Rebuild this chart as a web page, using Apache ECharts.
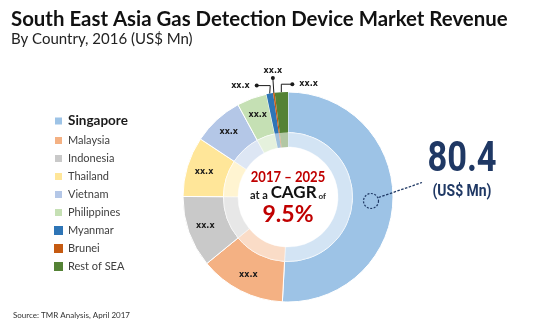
<!DOCTYPE html>
<html><head><meta charset="utf-8">
<script src="https://cdn.jsdelivr.net/npm/echarts@6/dist/echarts.min.js"></script>
<style>html,body{margin:0;padding:0;background:#fff}#c{width:540px;height:333px}</style>
</head><body><div id="c"></div>
<script>
const categories = ['Singapore','Malaysia','Indonesia','Thailand','Vietnam','Philippines','Myanmar','Brunei','Rest of SEA'];
const values = [80.4, 20.9, 17.4, 14.6, 12.3, 7.3, 1.6, 0.4, 3.2];
const valueLabels = ['', 'xx.x', 'xx.x', 'xx.x', 'xx.x', 'xx.x', 'xx.x', 'xx.x', 'xx.x'];
const colors = ['#9DC3E6','#F4B183','#C9C9C9','#FFE699','#B4C7E7','#C5E0B4','#2E75B6','#C55A11','#548235'];
const titleText = 'South East Asia Gas Detection Device Market Revenue';
const subtitleText = 'By Country, 2016 (US$ Mn)';
const sourceText = 'Source: TMR Analysis, April 2017';
const cagrPeriod = '2017 \u2013 2025';
const cagrValue = '9.5%';
const totalValue = '80.4';
const totalUnit = '(US$ Mn)';

const chart = echarts.init(document.getElementById('c'), null, {renderer:'canvas'});
const CX = 288, CY = 197;
const labelFont = {fontFamily:'DejaVu Sans', fontWeight:'bold', fontSize:8, color:'#1a1a1a'};
const dotRich = {
  t: Object.assign({}, labelFont, {lineHeight:11}),
  s: {width:5, height:4, lineHeight:4},
  d: {width:4, height:4, lineHeight:4, backgroundColor:'#1a1a1a', borderRadius:2, fontSize:1}
};
const outerData = categories.map((n, i) => {
  const small = i >= 6;
  return {
    name: n, value: values[i],
    itemStyle: {color: colors[i], borderColor:'#fff', borderWidth: small ? 0 : 1},
    label: small ? {position:'outside', rich: dotRich} : {position:'inside'},
    labelLine: {show: small, lineStyle:{color:'#1a1a1a', width:1}}
  };
});
const innerData = categories.map((n, i) => ({
  name: n, value: values[i],
  itemStyle: {color: colors[i], opacity: 0.45, borderColor:'#fff', borderWidth: i >= 6 ? 0 : 1}
}));

function outsideFormatter(p) {
  const i = p.dataIndex, t = valueLabels[i];
  if (i === 6) return '{t|' + t + '}{s| }{d| }';
  if (i === 7) return '{t|' + t + '}\n{d| }';
  if (i === 8) return '{d| }{s| }{t|' + t + '}';
  return t;
}

const option = {
  animation: false,
  title: {
    text: titleText, subtext: subtitleText, left: 11, top: 9, padding: 0, itemGap: 3,
    textStyle: {fontFamily:'Lato', fontWeight:'bold', fontSize:20.4, color:'#111'},
    subtextStyle: {fontFamily:'Lato', fontSize:15, color:'#222'}
  },
  legend: {
    orient:'vertical', left:48, top:109, itemWidth:9, itemHeight:9, itemGap:7, icon:'rect',
    selectedMode:false,
    textStyle:{fontFamily:'Lato', fontSize:11, color:'#404040'},
    data: categories.map((n, i) => i === 0 ? {name:n, textStyle:{fontWeight:'bold', fontSize:13.5, color:'#1a1a1a'}} : n)
  },
  series: [
    {
      type:'pie', center:[CX, CY], radius:[64.5, 105], startAngle:90, clockwise:true,
      avoidLabelOverlap:false, silent:true,
      label: Object.assign({show:true, formatter: p => p.dataIndex >= 6 ? outsideFormatter(p) : valueLabels[p.dataIndex]}, labelFont),
      labelLayout: function (params) {
        const i = params.dataIndex;
        if (i < 6 || !params.labelLinePoints) return {};
        const p0 = params.labelLinePoints[0];
        if (i === 6) {
          const y = p0[1] - 8, xd = p0[0] - 13;
          return {x: xd + 2, y: y, align:'right', verticalAlign:'middle',
            labelLinePoints: [p0, [p0[0] + 0.5, y], [xd, y]]};
        }
        if (i === 7) {
          const y = p0[1] - 15;
          return {x: p0[0] - 1, y: y + 2, align:'center', verticalAlign:'bottom',
            labelLinePoints: [p0, [p0[0] - 1, y], [p0[0] - 1, y]]};
        }
        const y = p0[1] - 8, xd = p0[0] + 11;
        return {x: xd - 2, y: y, align:'left', verticalAlign:'middle',
          labelLinePoints: [p0, [p0[0], y], [xd, y]]};
      },
      data: outerData
    },
    {
      type:'pie', center:[CX, CY], radius:[50, 64.5], startAngle:90, clockwise:true,
      silent:true, label:{show:false}, labelLine:{show:false},
      data: innerData
    }
  ],
  graphic: [
    {type:'text', z:100, x:CX, y:177, scaleX:0.9, style:{text:cagrPeriod, fill:'#C00000', font:'bold 14.5px Lato', textAlign:'center', textVerticalAlign:'middle'}},
    {type:'text', z:100, x:CX, y:193, style:{
      text:'{a|at a }{b|CAGR}{c| of}', textAlign:'center', textVerticalAlign:'middle',
      rich:{
        a:{fontFamily:'Lato', fontWeight:'bold', fontSize:11, fill:'#1a1a1a', verticalAlign:'bottom', padding:[0,0,1,0]},
        b:{fontFamily:'Lato', fontWeight:'bold', fontSize:17, fill:'#111'},
        c:{fontFamily:'Lato', fontWeight:'bold', fontSize:8, fill:'#1a1a1a', verticalAlign:'bottom', padding:[0,0,1,0]}
      }}},
    {type:'text', z:100, x:CX, y:215, style:{text:cagrValue, fill:'#C00000', font:'bold 23px Lato', textAlign:'center', textVerticalAlign:'middle'}},
    {type:'text', z:100, x:462, y:160, scaleX:0.8, style:{text:totalValue, fill:'#1F3864', font:'bold 43px Roboto', textAlign:'center', textVerticalAlign:'middle'}},
    {type:'text', z:100, x:462, y:192, scaleX:0.82, style:{text:totalUnit, fill:'#1F3864', font:'bold 17px Roboto', textAlign:'center', textVerticalAlign:'middle'}},
    {type:'circle', z:100, shape:{cx:371, cy:201, r:7.5}, style:{fill:'none', stroke:'#1F3864', lineWidth:1.2, lineDash:[2,1.5]}},
    {type:'line', z:100, shape:{x1:378.5, y1:197.5, x2:422, y2:182.5}, style:{stroke:'#1F3864', lineWidth:1.3, lineDash:[2.5,1.5]}},
    {type:'text', z:100, x:13, y:315, style:{text:sourceText, fill:'#333', font:'8px Lato', textVerticalAlign:'middle'}}
  ]
};
chart.setOption(option);
</script></body></html>
